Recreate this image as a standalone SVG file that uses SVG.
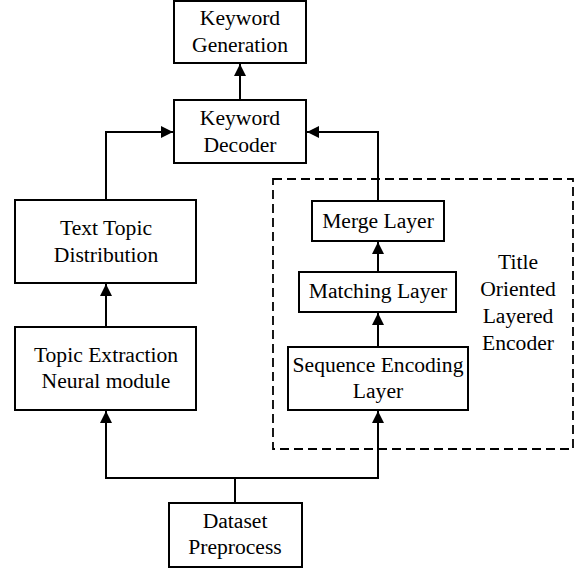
<svg xmlns="http://www.w3.org/2000/svg" width="577" height="572" viewBox="0 0 577 572">
<style>
.box{fill:#fff;stroke:#000;stroke-width:2}
text{font-family:'Liberation Serif','Times New Roman',serif;font-size:21.6px;fill:#000;text-anchor:middle}
.ln{fill:none;stroke:#000;stroke-width:2}
.dash{fill:none;stroke:#000;stroke-width:1.8;stroke-dasharray:9,5}
</style>
<defs>
<marker id="ah" markerWidth="12" markerHeight="12" refX="12" refY="6" orient="auto" markerUnits="userSpaceOnUse">
<path d="M0,0 L12,6 L0,12 Z" fill="#000"/>
</marker>
</defs>
<rect width="577" height="572" fill="#fff"/>
<g id="encoder-frame">
<rect class="dash" x="273" y="179" width="300" height="270"/>
<text x="518" y="269">Title</text>
<text x="518" y="296">Oriented</text>
<text x="518" y="323">Layered</text>
<text x="518" y="350">Encoder</text>
</g>
<g id="connectors">
<path class="ln" d="M240,100 V64" marker-end="url(#ah)"/>
<path class="ln" d="M106,200 V132 H173" marker-end="url(#ah)"/>
<path class="ln" d="M378,201 V132 H307" marker-end="url(#ah)"/>
<path class="ln" d="M106,327 V284" marker-end="url(#ah)"/>
<path class="ln" d="M378,272 V242" marker-end="url(#ah)"/>
<path class="ln" d="M378,347 V313" marker-end="url(#ah)"/>
<path class="ln" d="M235,503 V478 H106 V411" marker-end="url(#ah)"/>
<path class="ln" d="M235,478 H378 V411" marker-end="url(#ah)"/>
</g>
<g id="keyword-generation">
<rect class="box" x="174" y="1" width="132" height="62"/>
<text x="240" y="25">Keyword</text>
<text x="240" y="52">Generation</text>
</g>
<g id="keyword-decoder">
<rect class="box" x="174" y="100" width="132" height="63"/>
<text x="240" y="125">Keyword</text>
<text x="240" y="152">Decoder</text>
</g>
<g id="text-topic-distribution">
<rect class="box" x="15" y="200" width="181" height="83"/>
<text x="106" y="235">Text Topic</text>
<text x="106" y="262">Distribution</text>
</g>
<g id="topic-extraction">
<rect class="box" x="15" y="327" width="181" height="83"/>
<text x="106" y="362">Topic Extraction</text>
<text x="106" y="388">Neural module</text>
</g>
<g id="merge-layer">
<rect class="box" x="312" y="201" width="132" height="40"/>
<text x="378" y="228">Merge Layer</text>
</g>
<g id="matching-layer">
<rect class="box" x="299" y="272" width="157" height="40"/>
<text x="378" y="298">Matching Layer</text>
</g>
<g id="sequence-encoding-layer">
<rect class="box" x="288" y="347" width="180" height="63"/>
<text x="378" y="372">Sequence Encoding</text>
<text x="378" y="398">Layer</text>
</g>
<g id="dataset-preprocess">
<rect class="box" x="169" y="503" width="133" height="64"/>
<text x="235" y="528">Dataset</text>
<text x="235" y="554">Preprocess</text>
</g>
</svg>
